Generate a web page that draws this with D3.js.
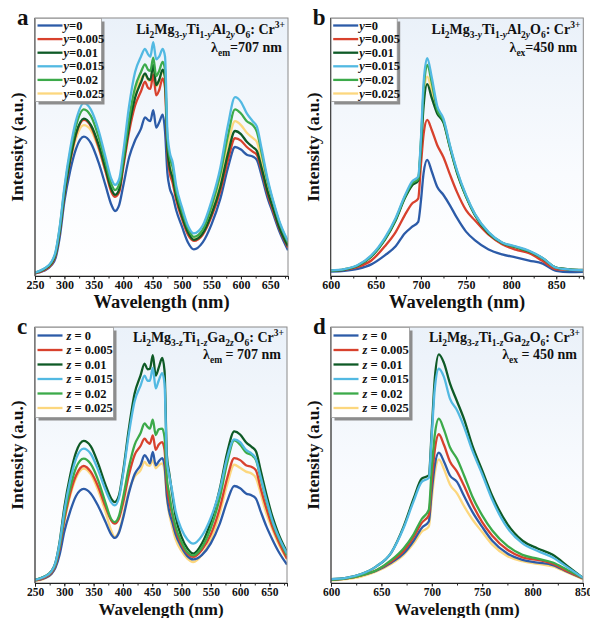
<!DOCTYPE html>
<html><head><meta charset="utf-8">
<script src="https://cdn.jsdelivr.net/npm/d3@7"></script>
<style>html,body{margin:0;padding:0;background:#fff;}svg{display:block;}</style>
</head><body>
<svg id="chart" width="590" height="618"></svg>
<script>
// ---------------- DATA ----------------
// wavelength grids (nm)
const wlExc = [250,265,278,285,292,300,310,320,333,345,358,370,380,386,393,400,410,420,430,437,442,446,451,456,461,467,471,475,479,484,490,500,510,520,535,550,565,578,590,600,610,620,627,635,645,655,665,680];
const wlEmB = [600,615,630,645,660,672,682,690,697,700,703,707,712,718,725,732,740,750,760,775,790,805,820,835,850,865,880];
const wlEmD = [600,615,630,645,660,672,682,690,697,700,703,707,712,718,725,732,740,750,760,775,790,805,820,835,850];

const legendAl = ["0","0.005","0.01","0.015","0.02","0.025"];
const legendGa = ["0","0.005","0.01","0.015","0.02","0.025"];

// panel a: excitation, Al series
const aY0    = [1,2,4.2,7,15,29,41,49.5,54,51.5,44,35,27.5,25.2,27.5,35,46,52.5,57,61.5,60.5,60,64.3,57.5,59.5,62.5,56,40,34,31,25.5,19,13,10.3,13,20,30,42,50,49,47,46.3,45,39,30.5,24,17.5,10];
const aY005  = [1,2.2,4.5,8,17,31.5,45,55,60.5,58,50,40.5,32.5,30.7,32.5,42,56,66,71.5,75.3,73,72.5,78,70,72,76.6,73,48,40,36,29.5,22,16,13.6,16,23,33,45,53.4,52.5,50,48.2,47,41,32,25,18.5,11];
const aY01   = [1.2,2.5,5,8.5,17.5,32,45.5,55.5,61,58.5,51,41.5,33.5,31.5,33.5,43.5,58,69,75,78.5,76.5,76,81.8,74,76,80,77,50,42,38,31,23,17,14,16.5,24,34.5,47.5,56.2,55,52,50,48.5,42,33,26,19,11.5];
const aY015  = [1.3,2.8,5.5,9.5,19,34.5,49.5,60.5,67,64.5,56.5,46,37.5,35.3,37.5,48,66,79,85,88,86,85,90.6,84,85,88,85,56,48,44,35,26.5,19.5,16.5,19.5,29,42,58.5,69.3,67.5,63,60,58,49.5,38,29,21.5,13.5];
const aY02   = [1.3,2.7,5.3,9,18.5,33.5,48,58.5,64.6,62,54,44,35.5,33.3,35.5,45,61,73,79,82,80,79.5,84.6,77.5,79.5,83,80,53,46,42,33,25,18.5,15.2,18,27,39.5,54.5,64.6,63,60,58.5,56,48,37,28.5,21,13];
const aY025  = [1.2,2.5,5,8.5,17,31,44,53.5,58.5,56.5,49.5,40.5,33,31,33,44,59,70,76.5,78,76,75.5,81.3,73.5,75.5,79.5,76.5,51,43,39,31.5,23.5,17,14.2,17,25.5,37,51,60,58.5,55.5,53.5,52,45,35,27,20,12];

// panel b: emission, Al series
const bY0    = [1.7,2,2.8,4.5,8,11.5,16.5,19,21,29,40,45,40.5,34.6,31.4,27.5,22.5,17.2,13.8,10.3,8.4,7.2,6,4.8,2,1.5,1.6];
const bY005  = [2,2.4,3.5,6,11.5,17,23.5,28,30,43,55,60.5,56.6,50.8,46,39.5,32.5,25.5,21.5,16,12.3,10.2,8.8,5.8,2.6,2.4,2.3];
const bY01   = [2,2.5,4,7.5,14,21.5,30,35,37,49.5,66,74.4,69,63,59.5,50,40,30.8,23.5,16.5,12.8,11.2,9.5,6.8,3.2,2.6,2.4];
const bY015  = [2.2,2.7,4.3,8,14.8,22.5,31,36.6,38.5,53,75,84.4,77,66,61,51,41,31.4,24,17,13,11.5,9.8,7,3.2,2.5,2.3];
const bY02   = [2.1,2.6,4.1,7.7,14.3,22,30.5,35.8,37.6,52,72,81.8,75,64.5,60.2,50.5,40.5,31,23.8,16.8,12.9,11.3,9.6,6.9,3.2,2.5,2.3];
const bY025  = [2.1,2.6,4.1,7.7,14.3,22,30.5,35.5,37.5,51,69,77.3,72,64,60,50.3,40.3,31,23.7,16.7,12.9,11.3,9.6,6.9,3.2,2.5,2.3];

// panel c: excitation, Ga series
const cZ0    = [1,1.8,3.5,6,11,20,28,34,36.8,35,30,24,19,17.6,19.5,25,35,42.5,46,49.9,48.5,46.7,51.2,46,47.5,48.8,46,34,28,24,19,14,10.5,9.2,11,15.5,23,32,37.9,37,35,34.2,33,28,22,17,12.5,7.2];
const cZ005  = [1,2,4,7,13.5,24.5,35,42,45.7,43.5,37.5,30,24.5,23.2,25,31,42,50,53.5,56.4,55,54.4,57.7,52,54,55,52,38,32,27,21,15,11.5,10.2,13,19,29,41,48.8,48,46,45.3,44,37,29,22,16.5,9.5];
const cZ01   = [1.2,2.4,4.6,8,16,29.5,42,51,55.5,53.5,46.5,38.5,33,31.6,34,43,60,74,81,85.7,83.5,83.6,89,81,84,87.9,83,50,43,35,26,18,13.5,11.5,15.5,24,36.5,51,59.2,58,55,53.1,51.5,44,34.5,26,19.5,12.1];
const cZ015  = [1.2,2.3,4.5,8,15.5,28,40,48.5,52.5,50.5,44,36.5,31.5,30.3,33,42,58,71,77,81,79,79,84,76,79,82,78,48,42,36,28,21,17,15.4,18.5,25.5,36,49,56.1,55,52,50.5,48.5,41.5,32.5,24.5,18.5,11.5];
const cZ02   = [1.2,2.3,4.5,7.5,14.5,26,37,45,48.6,46.5,40,31.5,25,23.8,26,33,45,54,58.5,62.3,61,60.3,63.8,57.8,60,60.3,57,41,35,28,22,16,12,10.8,14,21.5,33,47,55.7,54,51,49.9,48,41,32,24,18,10.8];
const cZ025  = [0.8,1.6,3.5,6.5,13,24,34,41,44.7,42.5,36,28,20.5,18,20,26,36,41.5,44,47.3,46,45.8,47.9,44.8,46,46.7,44,33,27,22,17,12.5,9.5,8.2,11,17,27,38.5,46.2,45,43.5,42.7,41,35,27,21,15.5,9.2];

// panel d: emission, Ga series
const dZ0    = [1.2,1.8,3,4.8,8,11.5,16.5,21.5,24,36,46,50.9,47.5,42,39.5,34,28,21.9,16.5,11.5,9,8,7,4.3,1.8];
const dZ005  = [1.2,1.8,3,5,8.5,12.5,18,23.5,26.5,40,52,58.1,54,47.5,43.5,38,31,23.8,18.5,13,10,9,7.5,4.5,1.8];
const dZ01   = [1.5,2,3.5,6.5,12,22,33,40.8,42,60,80,89.3,86,78,71,64,54,44,34,23,16.5,13.5,11,6.5,2];
const dZ015  = [1.5,2,3.5,6.5,12,21.5,32,39.5,41,58,76,83.7,80.5,72,67.5,61,52,42.5,32.5,21.5,15.5,12.5,10,6,2];
const dZ02   = [1.2,1.8,3,5,9,13.5,19,25,28.5,45,58,64.2,60,53,48.5,42,34,26.4,20.5,14.5,11,9.5,8,5,2];
const dZ025  = [1,1.5,2.5,4.5,7.5,11,15.5,20,22,33,43,48.3,44.5,38.5,35,30,25,19.9,15,10.5,8.5,7.5,6.5,4,1.5];

const ticksExc = [250,300,350,400,450,500,550,600,650];
const ticksEmB = [600,650,700,750,800,850];
const ticksEmD = [600,650,700,750,800,850];

// ---------------- STYLE ----------------
const FONT = "'Liberation Serif','Times New Roman',Times,serif";
const COLORS = ["#2c5ba8","#d8412d","#0e5a26","#52b9e2","#3caa4a","#fcd77e"];
const DRAW_ORDER = [5,0,1,2,4,3];

const svg = d3.select("#chart");
const defs = svg.append("defs");
const grad = defs.append("linearGradient").attr("id","bg").attr("x1",0).attr("y1",0).attr("x2",0).attr("y2",1);
grad.append("stop").attr("offset","0%").attr("stop-color","#eaf1f9");
grad.append("stop").attr("offset","60%").attr("stop-color","#f9fbfe");
grad.append("stop").attr("offset","100%").attr("stop-color","#ffffff");

function chemTitle(g, x, y, v){
  const t = g.append("text").attr("x",x).attr("y",y).attr("text-anchor","end")
    .attr("font-family",FONT).attr("font-weight","bold").attr("font-size",14).attr("fill","#111");
  const dop = v==="y" ? "Al" : "Ga";
  const parts = [
    ["Li"],["2","sub"],["Mg"],["3-","sub"],[v,"subi"],["Ti"],["1-","sub"],[v,"subi"],[dop],["2","sub"],[v,"subi"],["O"],["6","sub"],[": Cr"],["3+","sup"]
  ];
  let state = "base";
  const off = {base:0, sub:4, sup:-6};
  parts.forEach(p=>{
    const s = t.append("tspan").text(p[0]);
    const kind = p[1]||"base";
    const want = (kind==="sub"||kind==="subi") ? "sub" : (kind==="sup" ? "sup" : "base");
    if(want!==state){ s.attr("dy",off[want]-off[state]); state = want; }
    if(want!=="base") s.attr("font-size",9.5);
    if(kind==="subi") s.attr("font-style","italic");
  });
}
function lambdaLine(g,x,y,sub,val,spaced){
  const t = g.append("text").attr("x",x).attr("y",y).attr("text-anchor","end")
    .attr("font-family",FONT).attr("font-weight","bold").attr("font-size",14).attr("fill","#111");
  t.append("tspan").text("λ");
  t.append("tspan").text(sub).attr("font-size",9.5).attr("dy",4);
  t.append("tspan").text(spaced ? " = "+val+" nm" : "="+val+" nm").attr("dy",-4);
}

function panel(cfg){
  const g = svg.append("g");
  const x = d3.scaleLinear().domain(cfg.domain).range([cfg.left,cfg.right]);
  const y = d3.scaleLinear().domain([0,100]).range([cfg.bottom,cfg.top]);
  const clipId = "clip"+cfg.label;
  defs.append("clipPath").attr("id",clipId).append("rect")
    .attr("x",cfg.left).attr("y",cfg.top).attr("width",cfg.right-cfg.left).attr("height",cfg.bottom-cfg.top);
  g.append("rect").attr("x",cfg.left).attr("y",cfg.top).attr("width",cfg.right-cfg.left).attr("height",cfg.bottom-cfg.top)
    .attr("fill","url(#bg)");
  const line = d3.line().x((d,i)=>x(cfg.wl[i])).y(d=>y(d)).curve(d3.curveMonotoneX);
  const lg = g.append("g").attr("clip-path",`url(#${clipId})`);
  DRAW_ORDER.forEach(k=>{
    lg.append("path").datum(cfg.series[k]).attr("d",line).attr("fill","none")
      .attr("stroke",COLORS[k]).attr("stroke-width",2.3).attr("stroke-linejoin","round");
  });
  g.append("rect").attr("x",cfg.left).attr("y",cfg.top).attr("width",cfg.right-cfg.left).attr("height",cfg.bottom-cfg.top)
    .attr("fill","none").attr("stroke","#8a8a8a").attr("stroke-width",1);
  g.append("line").attr("x1",cfg.left).attr("x2",cfg.left).attr("y1",cfg.top).attr("y2",cfg.bottom).attr("stroke","#333");
  const minor = d3.range(cfg.domain[0], cfg.domain[1]+0.1, 25);
  const ax = g.append("g").attr("transform",`translate(0,${cfg.bottom})`);
  ax.call(d3.axisBottom(x).tickValues(minor).tickSize(2.5).tickFormat(""));
  const ax2 = g.append("g").attr("transform",`translate(0,${cfg.bottom})`);
  ax2.call(d3.axisBottom(x).tickValues(cfg.ticks).tickSize(3.5).tickPadding(1).tickFormat(d3.format("d")));
  g.selectAll(".domain").attr("stroke","#222");
  ax.selectAll("line").attr("stroke","#222");
  ax2.selectAll("line").attr("stroke","#222");
  ax2.selectAll("text").attr("font-family",FONT).attr("font-weight","bold").attr("font-size",cfg.tfs).attr("fill","#111");
  g.append("text").attr("x",(cfg.left+cfg.right)/2).attr("y",cfg.bottom+cfg.xtitleOff)
    .attr("text-anchor","middle").attr("font-family",FONT).attr("font-weight","bold").attr("font-size",cfg.xtfs).attr("fill","#111")
    .text("Wavelength (nm)");
  g.append("text").attr("transform",`translate(${cfg.left-12},${(cfg.top+cfg.bottom)/2}) rotate(-90)`)
    .attr("text-anchor","middle").attr("font-family",FONT).attr("font-weight","bold").attr("font-size",17.5).attr("fill","#111")
    .text("Intensity (a.u.)");
  g.append("text").attr("x",cfg.left-18).attr("y",cfg.top+7).attr("font-family",FONT).attr("font-weight","bold")
    .attr("font-size",23).attr("fill","#111").text(cfg.label);
  chemTitle(g, cfg.right-3, cfg.top+cfg.t1, cfg.v);
  lambdaLine(g, cfg.right-6, cfg.top+cfg.t2, cfg.lsub, cfg.lval, cfg.spaced);
  const L = cfg.legend;
  const lx = cfg.left+0.5, ly = cfg.top+0.5;
  g.append("rect").attr("x",lx+3).attr("y",ly+3).attr("width",L.w).attr("height",L.h).attr("fill","#8d8d8d");
  g.append("rect").attr("x",lx).attr("y",ly).attr("width",L.w).attr("height",L.h).attr("fill","#fff").attr("stroke","#9a9a9a").attr("stroke-width",0.8);
  cfg.names.forEach((n,i)=>{
    const yy = ly + L.first + i*L.step;
    g.append("line").attr("x1",lx+2).attr("x2",lx+27).attr("y1",yy).attr("y2",yy).attr("stroke",COLORS[i]).attr("stroke-width",2.3);
    const t = g.append("text").attr("x",lx+L.tx).attr("y",yy+4).attr("font-family",FONT).attr("font-weight","bold")
      .attr("font-size",L.fs).attr("fill","#111");
    t.append("tspan").attr("font-style","italic").text(cfg.v);
    t.append("tspan").text(cfg.spaced ? " = "+n : "="+n);
  });
}

panel({label:"a", left:35, right:288, top:18, bottom:276, domain:[250,680], ticks:ticksExc, wl:wlExc,
  series:[aY0,aY005,aY01,aY015,aY02,aY025], names:legendAl, v:"y", lsub:"em", lval:"707", spaced:false,
  t1:16, t2:34, xtitleOff:32, xtfs:18.5, tfs:12, legend:{w:66, h:83, first:7, step:13.6, tx:28, fs:12.5}});
panel({label:"b", left:330.7, right:583.3, top:18, bottom:276, domain:[600,880], ticks:ticksEmB, wl:wlEmB,
  series:[bY0,bY005,bY01,bY015,bY02,bY025], names:legendAl, v:"y", lsub:"ex", lval:"450", spaced:false,
  t1:16, t2:34, xtitleOff:32, xtfs:18.5, tfs:12, legend:{w:66, h:83, first:7, step:13.6, tx:28, fs:12.5}});
panel({label:"c", left:35, right:287, top:327, bottom:583, domain:[250,680], ticks:ticksExc, wl:wlExc,
  series:[cZ0,cZ005,cZ01,cZ015,cZ02,cZ025], names:legendGa, v:"z", lsub:"em", lval:"707", spaced:true,
  t1:15, t2:32, xtitleOff:31.5, xtfs:17, tfs:11.5, legend:{w:78, h:90, first:8, step:14.5, tx:31, fs:12.5}});
panel({label:"d", left:331, right:583, top:327, bottom:583, domain:[600,850], ticks:ticksEmD, wl:wlEmD,
  series:[dZ0,dZ005,dZ01,dZ015,dZ02,dZ025], names:legendGa, v:"z", lsub:"ex", lval:"450", spaced:true,
  t1:15, t2:32, xtitleOff:31.5, xtfs:17, tfs:11.5, legend:{w:78, h:90, first:8, step:14.5, tx:31, fs:12.5}});
</script>
</body></html>
